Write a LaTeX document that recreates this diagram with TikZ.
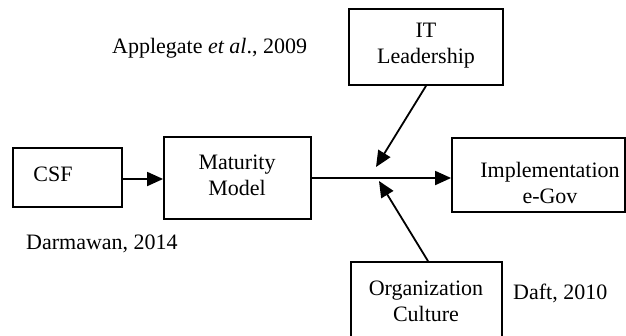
\documentclass[tikz,border=0pt]{standalone}
\usepackage{fontspec}
\setmainfont{Liberation Serif}
\usetikzlibrary{arrows.meta}
\begin{document}
\begin{tikzpicture}[x=1pt,y=-1pt,
  box/.style={draw,line width=1.8pt,inner sep=0pt},
  lbl/.style={font=\fontsize{22}{26}\selectfont,align=center,inner sep=0pt},
  conn/.style={line width=1.8pt,-{Triangle[length=16pt,width=14pt]}}]
\clip (0,0) rectangle (626,335);
\fill[white] (0,0) rectangle (626,335);
% boxes
\node[box,minimum width=109pt,minimum height=59pt] (csf) at (67.5,177.5) {};
\node[lbl] (csft) at (53,174) {CSF};
\node[box,minimum width=147pt,minimum height=82pt] (mm) at (237.5,178) {};
\node[lbl] (mmt) at (237,175) {Maturity\\Model};
\node[box,minimum width=154pt,minimum height=76pt] (it) at (426,47) {};
\node[lbl] (itt) at (426,46) {IT\\Leadership};
\node[box,minimum width=173pt,minimum height=74pt] (impl) at (538.5,175) {};
\node[lbl] (implt) at (550,183) {Implementation\\e-Gov};
\node[box,minimum width=151pt,minimum height=90pt] (org) at (426.5,307) {};
\node[lbl] (orgt) at (426,301) {Organization\\Culture};
% citations
\node[lbl,anchor=west] (app) at (112,48) {Applegate \textit{et al}., 2009};
\node[lbl,anchor=west] (dar) at (26,244) {Darmawan, 2014};
\node[lbl,anchor=west] (daft) at (513,293) {Daft, 2010};
% connectors
\coordinate (j) at (379,178);
\coordinate (jt) at (376,167);
\coordinate (jb) at (379,181);
\draw[conn] (csf.east |- 0,179) -- (mm.west |- 0,179);
\draw[conn] (mm.east |- j) -- (impl.west |- j);
\draw[conn] (it.south -| 426,0) -- (jt);
\draw[conn] (org.north -| 428,0) -- (jb);
\end{tikzpicture}
\end{document}
